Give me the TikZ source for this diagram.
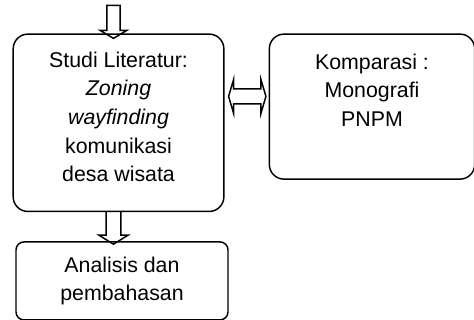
\documentclass[tikz,border=0pt]{standalone}
\usepackage{fontspec}
\setmainfont{Liberation Sans}
\usepackage{tikz}
\usetikzlibrary{positioning}
\tikzstyle{box} = [ rectangle, rounded corners = 11pt, draw = black, %
                    line width = 1.1pt, align = center, %
                    font = \fontsize{16pt}{21.4pt}\selectfont ]
\tikzstyle{txt} = [ align = center, inner sep = 0pt, %
                    font = \fontsize{16pt}{21.4pt}\selectfont ]
\tikzstyle{blockarrow} = [draw = black, line width = 1.1pt, line join = miter]

\begin{document}
\begin{tikzpicture}
      \useasboundingbox (0,0) rectangle (355.5pt,240pt);
      % Boxes
      \node (lit) [box, minimum width = 158pt, minimum height = 133pt] %
        at (88.9pt,147.9pt) {Studi Literatur:\\ \textit{Zoning}\\ %
        \textit{wayfinding}\\ komunikasi\\ desa wisata\rule[-9pt]{0pt}{9pt}};
      \node (komp) [box, minimum width = 154pt, minimum height = 108.75pt, %
        right = 33pt of lit.north east, anchor = north west] {};
      \node (kompteks) [txt, below = 15pt of komp.north] %
        {Komparasi :\\ Monografi\\ PNPM};
      \node (ana) [box, rounded corners = 6pt, minimum width = 159pt, %
        minimum height = 58.5pt, below = 21.75pt of lit.south, xshift = 2.6pt] %
        {Analisis dan\\ pembahasan};
      \coordinate (start) at ([xshift = -3.8pt, yshift = 21pt]lit.north);
      % Arrows
      \draw [blockarrow] ([xshift = -5pt]start) -- ++(0,-18.75pt) %
        -- ++(-5pt,0) -- ++(10pt,-6pt) -- ++(10pt,6pt) -- ++(-5pt,0) %
        -- ++(0,18.75pt) -- cycle;
      \draw [blockarrow] ([xshift = -9.3pt]lit.south) -- ++(0,-17.25pt) %
        -- ++(-5.4pt,0) -- ++(10.9pt,-6.75pt) -- ++(10.9pt,6.75pt) %
        -- ++(-5.4pt,0) -- ++(0,17.25pt);
      \draw [blockarrow] ([xshift = 3pt, yshift = -47.25pt]lit.north east) %
        -- ++(3.75pt,12.75pt) -- ++(0,-7.15pt) -- ++(20.5pt,0) %
        -- ++(0,7.15pt) -- ++(3.75pt,-12.75pt) -- ++(-3.75pt,-12.75pt) %
        -- ++(0,7.15pt) -- ++(-20.5pt,0) -- ++(0,-7.15pt) -- cycle;
    \end{tikzpicture}
\end{document}
